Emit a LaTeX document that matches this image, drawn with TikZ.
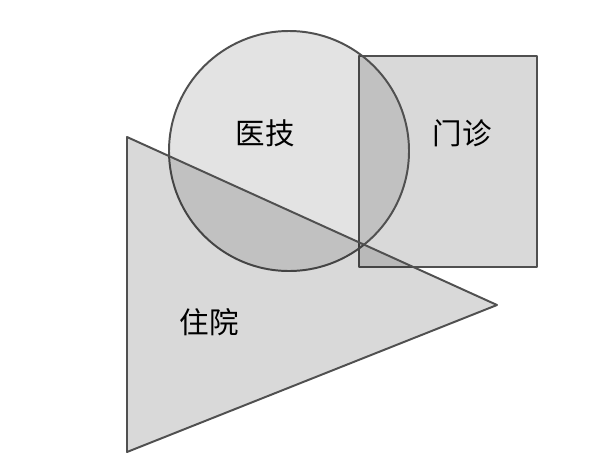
\documentclass[tikz,border=0pt]{standalone}
\usepackage{fontspec}
\usepackage{pgf,tikz}
\newfontfamily\cjk{Noto Sans CJK SC}
\definecolor{rimgray}{HTML}{505050}
\tikzset{area/.style={draw=rimgray,line width=1.4pt,fill=black,fill opacity=0.15},
  lbl/.style={font=\cjk\fontsize{21}{25}\selectfont,text=black}}

\begin{document}
\begin{tikzpicture}[line cap=round,line join=round,x=1.0cm,y=1.0cm]
\useasboundingbox (0,0) rectangle (15.075,11.65);
\draw [area] (8.975,4.975) rectangle (13.425,10.25);
\draw [area,fill opacity=0.11] (7.225,7.875) circle (3cm);
\draw [area] (3.175,8.225) -- (12.425,4.025) -- (3.175,0.35) -- cycle;
\draw (6.625,8.325) node[lbl] (yiji) {医技};
\draw (11.55,8.325) node[lbl] (menzhen) {门诊};
\draw (5.225,3.6) node[lbl] (zhuyuan) {住院};
\end{tikzpicture}
\end{document}
